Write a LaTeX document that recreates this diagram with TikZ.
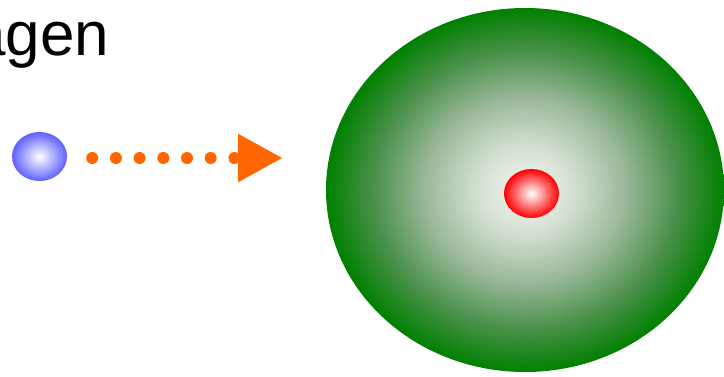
\documentclass[tikz,border=0pt]{standalone}
\usepackage{fontspec}
\setmainfont{Liberation Sans}
\usetikzlibrary{shapes.geometric,arrows.meta}
\definecolor{mygreen}{RGB}{0,128,0}
\definecolor{gA}{RGB}{243,246,241}
\definecolor{gB}{RGB}{212,224,210}
\definecolor{gC}{RGB}{155,185,155}
\definecolor{gD}{RGB}{75,145,75}
\definecolor{myblue}{RGB}{96,96,255}
\definecolor{myred}{RGB}{255,0,0}
\pgfdeclareradialshading{greenball}{\pgfpoint{0bp}{0bp}}{color(0bp)=(gA); color(6bp)=(gB); color(12.5bp)=(gC); color(19bp)=(gD); color(25bp)=(mygreen); color(50bp)=(mygreen)}
\begin{document}
\begin{tikzpicture}[x=1pt,y=-1pt,
  ball/.style={ellipse,inner sep=0pt,shading=radial},
  label text/.style={inner sep=0pt,anchor=base west,font=\fontsize{62}{64}\selectfont},
  dotline/.style={draw={rgb,255:red,255;green,102;blue,0},line width=12pt,line cap=round,
    dash pattern=on 0pt off 23.7pt,
    -{Triangle[length=45pt,width=45pt,fill={rgb,255:red,255;green,102;blue,0}]}}]
\useasboundingbox (0,0) rectangle (724,376);
\clip (0,0) rectangle (724,376);
\node[label text] (title) at (-29,55) {agen};
\node[ball,minimum width=55pt,minimum height=49pt,inner color=white,outer color=myblue] (e) at (39.5,156.5) {};
\node[ellipse,inner sep=0pt,shading=greenball,minimum width=398pt,minimum height=364pt] (atom) at (525,190) {};
\node[ball,minimum width=55pt,minimum height=49pt,inner color=white,outer color=myred] (p) at (531.5,193.5) {};
\coordinate (tip) at (283,158);
\draw[dotline,shorten <=25pt] (e.east |- 0,158) -- (tip);
\end{tikzpicture}
\end{document}
